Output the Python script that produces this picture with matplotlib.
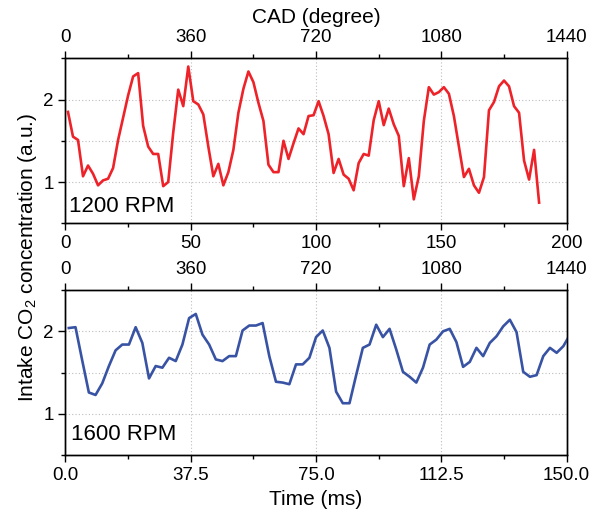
import numpy as np
import matplotlib
matplotlib.use('Agg')
import matplotlib.pyplot as plt
from matplotlib.ticker import MultipleLocator, FixedLocator

plt.rcParams['font.family'] = ['Liberation Sans', 'DejaVu Sans']
plt.rcParams['mathtext.fontset'] = 'custom'
plt.rcParams['mathtext.rm'] = 'Liberation Sans'
plt.rcParams['mathtext.it'] = 'Liberation Sans'

# Sampling: one point every 2 ms, starting at 1 ms
t_start = 1.0
t_step = 2.0

# 1200 RPM intake CO2 signal (a.u.)
co2_1200 = [
    1.85, 1.55, 1.51, 1.07, 1.20, 1.10, 0.96, 1.02, 1.04, 1.17,
    1.51, 1.78, 2.05, 2.28, 2.32, 1.68, 1.43, 1.34, 1.34, 0.95,
    1.00, 1.60, 2.12, 1.92, 2.40, 1.98, 1.94, 1.82, 1.43, 1.07,
    1.22, 0.96, 1.12, 1.39, 1.84, 2.13, 2.34, 2.21, 1.96, 1.74,
    1.21, 1.12, 1.12, 1.50, 1.28, 1.47, 1.65, 1.58, 1.80, 1.81,
    1.98, 1.80, 1.58, 1.11, 1.28, 1.09, 1.04, 0.90, 1.23, 1.34,
    1.32, 1.75, 1.98, 1.69, 1.89, 1.70, 1.56, 0.95, 1.29, 0.79,
    1.07, 1.74, 2.15, 2.06, 2.09, 2.15, 2.07, 1.80, 1.43, 1.06,
    1.16, 0.96, 0.87, 1.06, 1.87, 1.97, 2.16, 2.23, 2.16, 1.92,
    1.84, 1.26, 1.03, 1.39, 0.75,
]

# 1600 RPM intake CO2 signal (a.u.)
co2_1600 = [
    2.04, 2.05, 1.65, 1.26, 1.23, 1.37, 1.58, 1.77, 1.84, 1.84,
    2.05, 1.86, 1.43, 1.58, 1.56, 1.68, 1.64, 1.84, 2.16, 2.21,
    1.96, 1.84, 1.66, 1.64, 1.70, 1.70, 2.01, 2.07, 2.07, 2.10,
    1.70, 1.39, 1.38, 1.36, 1.60, 1.60, 1.68, 1.93, 2.01, 1.80,
    1.27, 1.13, 1.13, 1.47, 1.80, 1.84, 2.08, 1.93, 2.03, 1.78,
    1.51, 1.45, 1.38, 1.56, 1.84, 1.90, 2.00, 2.03, 1.87, 1.57,
    1.63, 1.80, 1.70, 1.86, 1.94, 2.06, 2.14, 1.99, 1.51, 1.45,
    1.47, 1.70, 1.80, 1.74, 1.82, 1.96,
]

time_ticks_1200 = [0, 50, 100, 150, 200]
time_ticks_1600 = [0.0, 37.5, 75.0, 112.5, 150.0]
cad_ticks = [0, 360, 720, 1080, 1440]

red = '#EE2229'
blue = '#3853A4'
grid_color = '#BDBDBD'


def style_axes(ax, xmax, xticks, xlabels, xminor):
    ax.set_xlim(0, xmax)
    ax.set_ylim(0.5, 2.5)
    ax.xaxis.set_major_locator(FixedLocator(xticks))
    ax.set_xticklabels(xlabels)
    ax.xaxis.set_minor_locator(MultipleLocator(xminor))
    ax.yaxis.set_major_locator(FixedLocator([1, 2]))
    ax.yaxis.set_minor_locator(FixedLocator([0.5, 1.5, 2.5]))
    ax.tick_params(which='major', direction='out', length=5, width=1.0,
                   labelsize=13.5, right=False, top=False)
    ax.tick_params(which='minor', direction='out', length=3, width=1.0,
                   right=False, top=False)
    for s in ax.spines.values():
        s.set_linewidth(1.0)
    # dotted grid at major x ticks and every 0.5 in y
    ax.grid(True, which='major', axis='x', linestyle=(0, (1, 2)),
            color=grid_color, linewidth=0.8)
    for yv in [1.0, 1.5, 2.0]:
        ax.axhline(yv, linestyle=(0, (1, 2)), color=grid_color,
                   linewidth=0.8, zorder=0)


def add_cad_axis(ax):
    top = ax.twiny()
    top.set_xlim(0, 1440)
    top.xaxis.set_major_locator(FixedLocator(cad_ticks))
    top.xaxis.set_minor_locator(MultipleLocator(180))
    top.tick_params(which='major', direction='out', length=5, width=1.0,
                    labelsize=13.5)
    top.tick_params(which='minor', direction='out', length=3, width=1.0)
    for s in top.spines.values():
        s.set_linewidth(1.0)
    return top


fig = plt.figure(figsize=(5.92, 5.14), dpi=100)
ax1 = fig.add_axes([0.1106, 0.5656, 0.8466, 0.3210])
ax2 = fig.add_axes([0.1106, 0.1142, 0.8466, 0.3216])

t1 = t_start + t_step * np.arange(len(co2_1200))
t2 = t_start + t_step * np.arange(len(co2_1600))

# Top panel: 1200 RPM
ax1.plot(t1, co2_1200, color=red, linewidth=1.9, zorder=3)
style_axes(ax1, 200, time_ticks_1200, [str(v) for v in time_ticks_1200], 25)
ax1.text(0.008, 0.04, '1200 RPM', transform=ax1.transAxes, fontsize=16,
         ha='left', va='bottom')
top1 = add_cad_axis(ax1)
top1.set_xlabel('CAD (degree)', fontsize=15, labelpad=5)

# Bottom panel: 1600 RPM
ax2.plot(t2, co2_1600, color=blue, linewidth=1.9, zorder=3)
style_axes(ax2, 150, time_ticks_1600, ['%.1f' % v for v in time_ticks_1600], 18.75)
ax2.text(0.012, 0.06, '1600 RPM', transform=ax2.transAxes, fontsize=16,
         ha='left', va='bottom')
ax2.set_xlabel('Time (ms)', fontsize=15, labelpad=4)
add_cad_axis(ax2)

fig.text(0.047, 0.5, 'Intake CO$_\\mathrm{2}$ concentration (a.u.)',
         rotation=90, fontsize=15, ha='center', va='center')

fig.savefig('out.png', dpi=100)
